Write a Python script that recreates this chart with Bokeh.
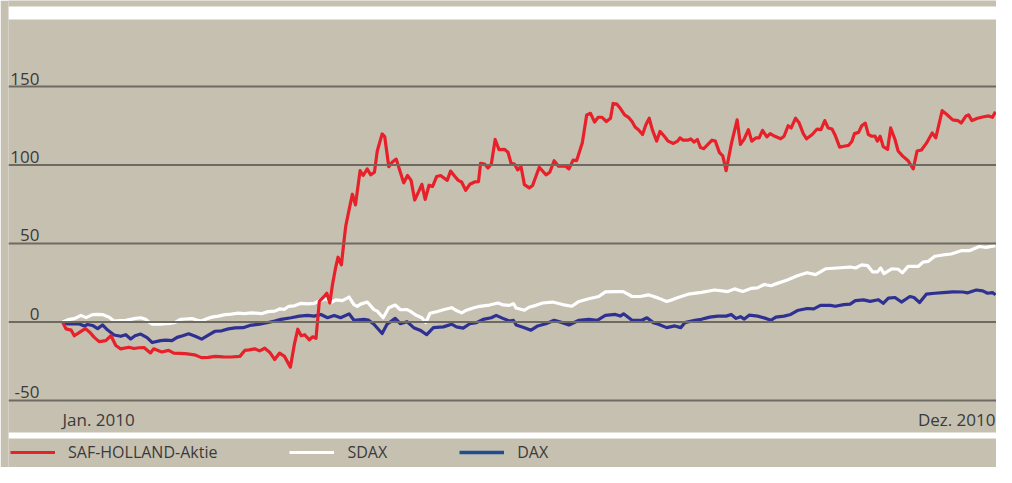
from bokeh.plotting import figure
from bokeh.models import Range1d, Span, BoxAnnotation, Legend, LegendItem
from bokeh.core.properties import value
from bokeh.embed import file_html
from bokeh.resources import INLINE

# ---- data (days since 1 Jan 2010, performance in %) ----
saf_days = [0, 1.4, 3.4, 4.6, 6.6, 8.9, 10.5, 12.4, 14.3, 16.9,
            18.9, 20.8, 22.7, 25.9, 27.9, 29.8, 31.8, 34.3, 35.6, 38.7,
            41.4, 43.4, 47.9, 51.5, 54.2, 56.9, 59.5, 62.7, 65.8, 69.2,
            71.1, 72.8, 75.0, 76.9, 78.9, 80.8, 82.8, 84.7, 86.6, 88.9,
            90.5, 91.8, 93.1, 94.5, 96.3, 97.6, 98.9, 100.2, 102.1, 103.1,
            104.3, 105.3, 106.6, 107.5, 108.8, 109.9, 110.5, 111.8, 113.1, 114.3,
            116.1, 117.3, 118.9, 120.2, 121.7, 122.8, 124.7, 125.7, 127.3, 128.6,
            130.2, 131.8, 133.1, 134.6, 136.0, 137.4, 138.9, 140.2, 141.5, 143.0,
            144.4, 146.0, 147.5, 150.1, 151.4, 153.1, 154.4, 155.7, 157.3, 158.9,
            160.8, 162.3, 163.1, 164.7, 166.0, 167.3, 168.8, 170.3, 172.4, 173.8,
            175.0, 176.3, 177.6, 178.9, 180.2, 182.1, 183.4, 186.0, 188.6, 190.1,
            191.8, 193.5, 196.3, 197.6, 199.2, 200.6, 202.8, 204.5, 206.0, 207.6,
            209.0, 210.5, 212.2, 213.8, 214.8, 216.3, 217.6, 219.3, 220.8, 222.2,
            223.4, 224.7, 226.3, 227.6, 228.9, 230.1, 231.8, 233.1, 234.8, 236.3,
            238.3, 240.0, 240.9, 242.1, 244.1, 245.1, 246.4, 247.7, 248.9, 250.2,
            251.8, 253.4, 254.7, 256.3, 257.6, 258.9, 260.9, 263.2, 264.5, 266.0,
            267.6, 268.9, 270.6, 271.8, 273.1, 274.8, 276.1, 277.9, 280.2, 281.5,
            283.1, 284.3, 286.0, 287.3, 289.0, 290.3, 292.5, 294.4, 295.9, 297.4,
            298.7, 300.2, 301.5, 303.2, 305.4, 306.7, 308.0, 309.0, 310.6, 311.8,
            313.2, 314.4, 315.7, 317.0, 317.9, 319.0, 320.2, 321.9, 323.1, 324.8,
            326.0, 327.7, 329.9, 331.9, 333.4, 335.1, 337.0, 339.3, 340.7, 343.2,
            344.8, 347.3, 349.3, 350.6, 352.5, 353.5, 354.8, 357.0, 359.0, 361.3,
            362.8, 364.0]
saf_values = [0, -4.4, -5.2, -8.75, -6.6, -4.2, -6.3, -9.8, -12.5, -11.9,
              -8.75, -15.0, -17.1, -16.1, -16.9, -16.4, -16.3, -19.7, -17.1, -19.1,
              -18.1, -19.8, -20.2, -20.9, -22.7, -22.5, -21.9, -22.2, -22.3, -21.9,
              -18.1, -17.8, -17.1, -18.4, -16.7, -19.2, -23.9, -19.8, -21.9, -28.75,
              -13.9, -4.6, -8.75, -8.1, -11.4, -9.4, -10.4, 13.1, 16.25, 18.3,
              12.1, 23.6, 35.0, 41.25, 36.4, 52.7, 61.1, 71.4, 81.4, 74.6,
              96.4, 93.3, 97.5, 93.75, 95.4, 108.9, 119.8, 118.1, 98.9, 101.7,
              103.75, 95.4, 88.6, 93.3, 90.2, 77.7, 82.9, 87.7, 78.1, 87.1,
              86.4, 92.7, 93.3, 90.2, 96.1, 92.7, 90.2, 89.2, 83.9, 87.7,
              89.2, 89.4, 101.1, 100.6, 98.1, 100.6, 116.25, 109.8, 110.0, 108.1,
              101.1, 100.6, 96.9, 98.9, 87.5, 85.4, 86.9, 98.6, 93.75, 95.4,
              102.7, 99.2, 99.2, 97.5, 103.1, 102.8, 114.2, 131.9, 132.9, 127.3,
              130.4, 130.4, 127.7, 129.8, 139.2, 138.75, 136.1, 131.9, 130.4, 127.7,
              124.2, 122.5, 119.4, 125.6, 129.8, 122.5, 115.2, 121.4, 118.3, 115.2,
              113.75, 115.2, 117.3, 115.8, 115.8, 116.7, 114.6, 116.25, 111.1, 110.4,
              113.1, 115.8, 115.2, 107.9, 105.8, 96.4, 113.1, 128.75, 113.1, 116.7,
              122.5, 115.2, 117.3, 117.3, 122.1, 117.9, 120.0, 118.3, 116.7, 118.3,
              125.0, 123.6, 129.8, 127.1, 120.0, 116.7, 119.4, 122.9, 122.5, 128.3,
              123.6, 122.9, 118.75, 111.4, 112.1, 112.5, 115.2, 120.0, 120.8, 125.0,
              126.7, 119.4, 118.3, 118.4, 115.2, 118.3, 111.7, 110.0, 123.6, 116.25,
              108.9, 105.8, 102.7, 97.5, 108.9, 109.6, 113.75, 120.4, 117.3, 134.6,
              132.5, 128.75, 128.3, 126.7, 131.25, 131.9, 128.3, 129.8, 130.6, 131.25,
              130.4, 133.9]

sdax_days = [0, 2.7, 4.6, 7.2, 9.2, 11.7, 13.7, 15.6, 18.2, 20.1,
             22.5, 24.7, 26.6, 28.5, 30.5, 32.4, 33.7, 35.0, 38.2, 40.2,
             41.4, 44.0, 46.0, 47.9, 50.5, 52.3, 54.3, 56.3, 58.2, 60.8,
             63.4, 65.8, 68.5, 71.1, 73.7, 75.5, 77.6, 80.2, 82.8, 84.7,
             86.6, 88.3, 90.5, 93.1, 95.6, 98.2, 100.2, 102.1, 102.7, 104.7,
             106.6, 109.2, 111.8, 113.7, 115.0, 116.3, 118.9, 121.5, 122.8, 125.1,
             127.3, 129.8, 131.8, 134.4, 135.6, 138.2, 140.2, 141.7, 143.4, 145.3,
             148.6, 151.8, 153.7, 155.7, 157.6, 160.2, 162.8, 166.6, 169.9, 171.9,
             174.4, 175.9, 177.0, 180.2, 182.0, 184.7, 187.3, 191.2, 195.1, 198.7,
             201.5, 205.4, 209.2, 211.8, 215.7, 218.8, 222.2, 225.4, 228.6, 232.5,
             235.7, 237.8, 240.2, 244.1, 249.3, 254.4, 259.6, 262.2, 265.4, 268.6,
             271.1, 273.8, 276.4, 278.9, 282.8, 286.7, 290.5, 293.8, 297.7, 302.2,
             307.3, 309.4, 311.8, 314.1, 316.1, 317.9, 319.2, 320.5, 323.5, 326.0,
             327.7, 329.9, 333.8, 335.7, 337.7, 340.3, 343.5, 346.7, 350.6, 353.8,
             357.7, 360.3, 364.0]
sdax_values = [0, 1.7, 2.1, 4.2, 2.8, 4.7, 4.8, 4.7, 3.1, 0.6,
               0.9, 1.1, 1.7, 2.3, 2.7, 1.7, 0.0, -1.4, -1.4, -1.1,
               -1.1, -0.3, 1.7, 1.9, 2.2, 1.25, 0.6, 2.1, 3.1, 3.75,
               4.7, 5.0, 5.6, 5.3, 5.8, 5.6, 5.3, 6.6, 6.9, 8.3,
               8.1, 10.0, 10.3, 11.9, 11.6, 11.9, 13.4, 14.4, 15.2, 12.3,
               14.1, 13.6, 15.9, 11.1, 10.0, 11.4, 12.7, 7.9, 6.9, 2.7,
               9.1, 10.8, 7.8, 7.9, 6.9, 4.1, 2.7, -0.3, 5.6, 6.25,
               7.8, 9.1, 7.3, 5.8, 7.5, 8.9, 10.0, 10.8, 12.1, 10.9,
               10.6, 11.7, 8.9, 7.5, 9.4, 10.6, 12.1, 12.7, 11.1, 10.0,
               13.1, 14.8, 16.25, 19.2, 19.4, 19.4, 16.25, 16.25, 17.3, 15.2,
               13.1, 14.1, 15.6, 17.7, 18.9, 20.4, 19.4, 21.1, 19.4, 21.4,
               21.7, 23.9, 23.1, 24.6, 26.7, 29.4, 31.4, 30.2, 33.9, 34.4,
               35.0, 34.4, 36.4, 35.9, 31.9, 31.9, 34.4, 30.8, 33.9, 33.6,
               31.4, 35.4, 35.4, 38.1, 38.6, 41.9, 42.7, 43.3, 45.4, 45.4,
               48.1, 47.5, 48.6]

dax_days = [0, 2.1, 4.6, 6.6, 8.5, 9.8, 11.7, 13.7, 15.6, 17.5,
            20.1, 22.7, 24.7, 26.6, 28.3, 30.5, 33.0, 35.0, 38.2, 40.3,
            42.7, 44.7, 46.9, 49.2, 51.8, 54.3, 56.9, 59.5, 62.1, 64.7,
            67.3, 70.5, 73.1, 76.9, 80.2, 82.8, 85.3, 89.2, 92.4, 95.6,
            98.2, 100.8, 103.4, 106.0, 108.5, 111.8, 113.7, 117.6, 119.3, 121.5,
            124.7, 126.6, 129.8, 131.8, 134.4, 137.0, 139.5, 142.1, 144.7, 148.6,
            151.8, 153.7, 156.3, 158.9, 161.5, 164.1, 167.3, 169.2, 171.8, 174.4,
            175.9, 177.0, 180.2, 182.8, 185.4, 188.6, 191.8, 195.0, 197.6, 201.5,
            205.3, 208.6, 211.8, 215.7, 217.6, 218.9, 222.2, 226.0, 228.0, 230.5,
            232.5, 235.7, 238.9, 241.2, 242.8, 246.7, 249.3, 252.5, 255.7, 258.9,
            260.9, 262.8, 264.5, 266.0, 268.0, 271.2, 274.4, 276.4, 278.3, 281.5,
            284.1, 286.7, 290.5, 293.1, 295.7, 299.6, 301.5, 304.8, 307.3, 309.3,
            312.5, 315.1, 318.3, 320.2, 322.2, 324.8, 327.3, 330.6, 332.2, 334.4,
            337.0, 340.3, 343.5, 347.4, 351.2, 353.2, 356.5, 359.0, 360.9, 362.8,
            364.0]
dax_values = [0, -1.25, -1.1, -1.25, -2.5, -1.6, -2.2, -4.2, -1.9, -5.0,
              -8.3, -9.1, -8.1, -10.8, -8.75, -7.7, -10.0, -13.1, -11.9, -11.6,
              -11.9, -9.8, -8.75, -7.5, -9.1, -10.9, -8.3, -5.9, -5.6, -4.4,
              -3.75, -3.6, -2.2, -1.4, -0.3, 0.6, 1.7, 2.7, 3.75, 4.25,
              3.75, 4.8, 2.7, 4.2, 2.7, 5.2, 1.1, 1.7, 1.25, -1.4,
              -7.3, -1.4, 2.3, -1.1, 0.2, -3.6, -5.2, -8.1, -3.6, -3.1,
              -1.4, -3.1, -3.9, -1.1, -0.4, 1.7, 2.7, 4.2, 2.3, 0.6,
              1.1, -1.9, -3.6, -5.2, -2.5, -1.1, 1.1, -0.4, -1.9, 1.1,
              1.7, 1.1, 4.2, 4.8, 3.75, 5.2, 1.1, 1.1, 2.7, -0.4,
              -1.4, -3.6, -2.5, -3.6, -0.4, 1.1, 1.7, 3.1, 3.75, 3.75,
              4.8, 2.3, 3.4, 1.9, 4.4, 3.75, 2.3, 1.1, 3.1, 3.75,
              4.8, 7.3, 8.6, 8.4, 10.6, 10.6, 10.0, 11.1, 11.4, 13.6,
              14.1, 13.1, 14.2, 11.9, 15.2, 15.6, 12.7, 16.25, 15.6, 12.4,
              17.7, 18.3, 18.75, 19.2, 19.1, 18.6, 20.4, 19.8, 18.3, 18.75,
              17.3]

series_names = ["SAF-HOLLAND-Aktie", "SDAX", "DAX"]
y_ticks = [150, 100, 50, 0, -50]
y_tick_labels = ["150", "100", "50", "0", "-50"]
x_tick_labels = ["Jan. 2010", "Dez. 2010"]

# ---- styling ----
BG = "#c6c0b1"
RED = "#e8202a"
WHITE = "#ffffff"
BLUE = "#2f3192"
BLUE_LEGEND = "#1f4e8f"
GRID = "#6e6a61"
TEXT = "#3a3a3a"
FONT = "Open Sans"

X0, X1 = -21.07, 364.39
p = figure(width=996, height=467,
           x_range=Range1d(X0, X1), y_range=Range1d(-92.68, 204.78),
           output_backend="svg", toolbar_location=None,
           x_axis_type=None, y_axis_type=None,
           min_border_left=8, min_border_right=0, min_border_top=0, min_border_bottom=0,
           background_fill_color=BG, border_fill_color=BG, outline_line_color=None)

# white bars at top and bottom
p.add_layout(BoxAnnotation(bottom=192.68, top=200.96, fill_color=WHITE, fill_alpha=1, line_color=None))
p.add_layout(BoxAnnotation(bottom=-74.2, top=-70.38, fill_color=WHITE, fill_alpha=1, line_color=None))

# horizontal grid lines
for t in y_ticks:
    p.add_layout(Span(location=t, dimension="width", line_color=GRID, line_width=2))

# y labels sitting above the grid lines
p.text(x=[X0] * len(y_ticks), y=y_ticks, text=y_tick_labels,
       x_offset=31, y_offset=-8, text_align="right", text_baseline="alphabetic",
       text_font=value(FONT), text_font_size="17px", text_color=TEXT)

# x labels at start and end of the year
p.text(x=[saf_days[0]], y=[y_ticks[-1]], text=[x_tick_labels[0]], y_offset=19,
       text_align="left", text_baseline="alphabetic",
       text_font=value(FONT), text_font_size="17px", text_color=TEXT)
p.text(x=[saf_days[-1]], y=[y_ticks[-1]], text=[x_tick_labels[1]], y_offset=19,
       text_align="right", text_baseline="alphabetic",
       text_font=value(FONT), text_font_size="17px", text_color=TEXT)

# series
r_dax = p.line(dax_days, dax_values, line_color=BLUE, line_width=3.2, line_join="round")
r_sdax = p.line(sdax_days, sdax_values, line_color=WHITE, line_width=3.2, line_join="round")
r_saf = p.line(saf_days, saf_values, line_color=RED, line_width=3.2, line_join="round")
# legend-only renderer (no visible data) carrying the legend colour of DAX
r_dax_leg = p.line([dax_days[0]], [float("nan")], line_color=BLUE_LEGEND, line_width=3.5)

legend = Legend(items=[LegendItem(label=series_names[0], renderers=[r_saf]),
                       LegendItem(label=series_names[1], renderers=[r_sdax]),
                       LegendItem(label=series_names[2], renderers=[r_dax_leg])],
                orientation="horizontal", location=(2, 4),
                glyph_width=45, glyph_height=14, label_height=14, label_width=0,
                label_standoff=13, spacing=72, padding=0, margin=0,
                border_line_color=None, background_fill_alpha=0,
                label_text_font=FONT, label_text_font_size="16px",
                label_text_color=TEXT)
p.add_layout(legend)

open("out.html", "w").write(file_html(p, INLINE))
